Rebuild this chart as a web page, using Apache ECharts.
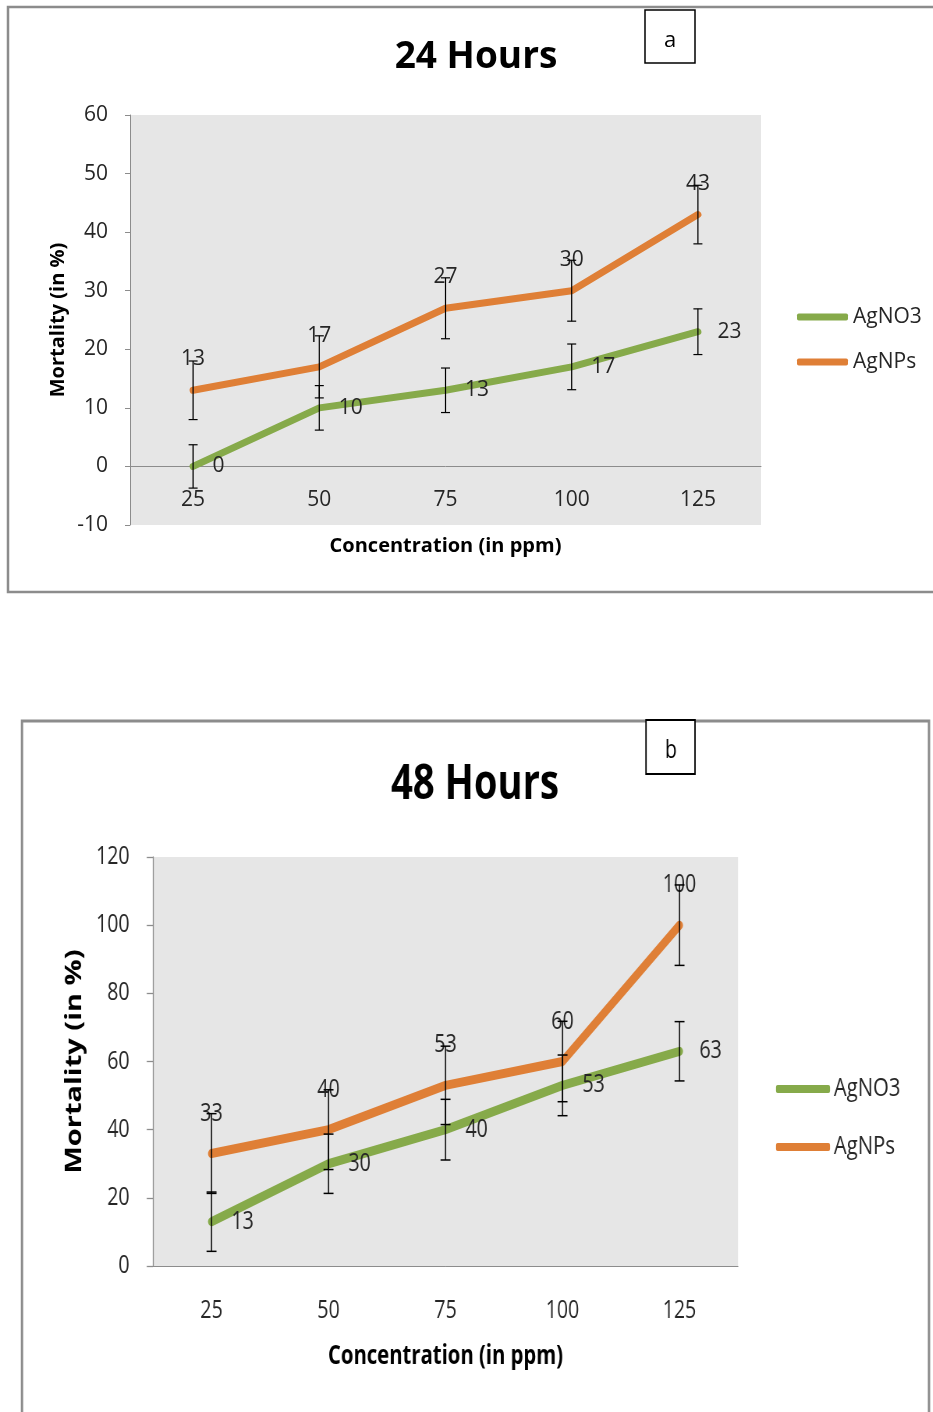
<!DOCTYPE html>
<html>
<head>
<meta charset="utf-8">
<script src="https://cdn.jsdelivr.net/npm/echarts@6/dist/echarts.min.js"></script>
<style>
html,body{margin:0;padding:0;background:#fff;overflow:hidden;}
#wrap{position:relative;width:933px;height:1412px;overflow:hidden;}
#chartA{position:absolute;left:0;top:0;width:933px;height:700px;}
/* panel b of the reference is horizontally condensed; draw it wider and squeeze it */
#chartB{position:absolute;left:0;top:700px;width:1196px;height:712px;transform:scaleX(0.78);transform-origin:0 0;}
</style>
</head>
<body>
<div id="wrap">
<div id="chartA"></div>
<div id="chartB"></div>
</div>
<script>
// ---- data ----
var concentrations = ['25', '50', '75', '100', '125'];
// Panel a: 24 hours
var a_AgNO3 = [0, 10, 13, 17, 23];
var a_AgNPs = [13, 17, 27, 30, 43];
var a_AgNO3_err = [3.7, 3.8, 3.8, 3.9, 3.9];
var a_AgNPs_err = [5.0, 5.3, 5.2, 5.2, 5.0];
// Panel b: 48 hours
var b_AgNO3 = [13, 30, 40, 53, 63];
var b_AgNPs = [33, 40, 53, 60, 100];
var b_AgNO3_err = [8.7, 8.7, 8.9, 8.9, 8.7];
var b_AgNPs_err = [11.7, 11.7, 11.5, 11.8, 11.8];
var seriesNames = ['AgNO3', 'AgNPs'];
var titles = ['24 Hours', '48 Hours'];
var panelTags = ['a', 'b'];
var xName = 'Concentration (in ppm)';
var yName = 'Mortality (in %)';
var yRangeA = { min: -10, max: 60, interval: 10 };
var yRangeB = { min: 0, max: 120, interval: 20 };

var GREEN = '#86aa4a', ORANGE = '#df7f36';
var FONT = "'Open Sans', 'Noto Sans', sans-serif";
var TXT = '#262626';
var axisGray = '#8c8c8c';
var SX = 0.78; // horizontal squeeze of panel b

function errData(vals, errs) {
  return vals.map(function (v, i) { return [i, v - errs[i], v + errs[i]]; });
}
function errRender(capHalf, lw) {
  return function (params, api) {
    var i = api.value(0);
    var lo = api.coord([i, api.value(1)]);
    var hi = api.coord([i, api.value(2)]);
    var st = { stroke: '#000', lineWidth: lw };
    return {
      type: 'group',
      children: [
        { type: 'line', shape: { x1: lo[0], y1: lo[1], x2: hi[0], y2: hi[1] }, style: st },
        { type: 'line', shape: { x1: lo[0] - capHalf, y1: lo[1], x2: lo[0] + capHalf, y2: lo[1] }, style: st },
        { type: 'line', shape: { x1: hi[0] - capHalf, y1: hi[1], x2: hi[0] + capHalf, y2: hi[1] }, style: st }
      ]
    };
  };
}
function lineSeries(name, data, color, width, labelPos, labelDist, fsize, dy) {
  return {
    name: name, type: 'line', data: data,
    symbol: 'circle', symbolSize: 1, showSymbol: true, z: 3,
    lineStyle: { color: color, width: width, cap: 'round', join: 'round' },
    itemStyle: { color: color },
    label: { show: true, position: labelPos, distance: labelDist, offset: [0, dy], color: TXT, fontFamily: FONT, fontSize: fsize },
    labelLayout: { hideOverlap: false }
  };
}
function errSeries(name, vals, errs, cap, lw) {
  return {
    name: name, type: 'custom',
    data: errData(vals, errs), encode: { x: 0, y: [1, 2] },
    renderItem: errRender(cap, lw), z: 4, silent: true
  };
}
function legendData() {
  return [
    { name: seriesNames[0], icon: 'roundRect', itemStyle: { color: GREEN } },
    { name: seriesNames[1], icon: 'roundRect', itemStyle: { color: ORANGE } }
  ];
}

// ---------- panel a ----------
var gridA = { left: 130, top: 115, width: 631, height: 410 };
// place the category axis on the value 0 line
var zeroOffsetA = -gridA.height * (0 - yRangeA.min) / (yRangeA.max - yRangeA.min);
var chartA = echarts.init(document.getElementById('chartA'), null, { renderer: 'canvas' });
chartA.setOption({
  animation: false,
  backgroundColor: 'transparent',
  textStyle: { fontFamily: FONT },
  grid: { left: gridA.left, top: gridA.top, width: gridA.width, height: gridA.height, show: true, backgroundColor: '#e6e6e6', borderWidth: 0 },
  xAxis: {
    type: 'category', data: concentrations, offset: zeroOffsetA,
    axisLine: { onZero: false, lineStyle: { color: axisGray, width: 1 } },
    axisTick: { show: false },
    axisLabel: { margin: 23, fontSize: 21, color: TXT, fontFamily: FONT },
    name: xName, nameLocation: 'middle', nameGap: 70, nameMoveOverlap: false,
    nameTextStyle: { fontWeight: 'bold', fontSize: 20, color: '#000', fontFamily: FONT }
  },
  yAxis: {
    type: 'value', min: yRangeA.min, max: yRangeA.max, interval: yRangeA.interval,
    axisLine: { show: true, lineStyle: { color: axisGray, width: 1 } },
    axisTick: { show: true, length: 5, lineStyle: { color: axisGray } },
    splitLine: { show: false },
    axisLabel: { margin: 22, fontSize: 21, color: TXT, fontFamily: FONT },
    name: yName, nameLocation: 'middle', nameGap: 62, nameRotate: 90, nameMoveOverlap: false,
    nameTextStyle: { fontWeight: 'bold', fontSize: 20, color: '#000', fontFamily: FONT }
  },
  legend: {
    orient: 'vertical', left: 797, top: 306, padding: 0, itemWidth: 51, itemHeight: 7, itemGap: 23,
    textStyle: { fontSize: 21, color: TXT, fontFamily: FONT, lineHeight: 22 },
    data: legendData(), selectedMode: false
  },
  graphic: [
    { type: 'rect', shape: { x: 8, y: 7, width: 940, height: 585 }, style: { fill: 'none', stroke: '#8c8c8c', lineWidth: 2.5 }, z: -1 },
    { type: 'rect', shape: { x: 645, y: 10, width: 50, height: 53 }, style: { fill: '#fff', stroke: '#000', lineWidth: 1.5 } },
    { type: 'text', x: 670, y: 41, style: { text: panelTags[0], font: "22px 'Open Sans'", fill: '#000', textAlign: 'center', textVerticalAlign: 'middle' } },
    { type: 'text', x: 476, y: 57, style: { text: titles[0], font: "bold 37px 'Open Sans'", fill: '#000', textAlign: 'center', textVerticalAlign: 'middle' } }
  ],
  series: [
    lineSeries(seriesNames[0], a_AgNO3, GREEN, 7, 'right', 19, 21, 3),
    lineSeries(seriesNames[1], a_AgNPs, ORANGE, 7, 'top', 20, 21, 0),
    errSeries('a-AgNO3-err', a_AgNO3, a_AgNO3_err, 4.5, 1.2),
    errSeries('a-AgNPs-err', a_AgNPs, a_AgNPs_err, 4.5, 1.2)
  ]
});

// ---------- panel b (coordinates in the un-squeezed space) ----------
var TOPB = 700;
var chartB = echarts.init(document.getElementById('chartB'), null, { renderer: 'canvas' });
chartB.setOption({
  animation: false,
  backgroundColor: 'transparent',
  textStyle: { fontFamily: FONT },
  grid: { left: 153 / SX, top: 857 - TOPB, width: 585 / SX, height: 409, show: true, backgroundColor: '#e6e6e6', borderWidth: 0 },
  xAxis: {
    type: 'category', data: concentrations,
    axisLine: { onZero: false, lineStyle: { color: axisGray, width: 1 } },
    axisTick: { show: false },
    axisLabel: { margin: 32, fontSize: 25, color: TXT, fontFamily: FONT },
    name: xName, nameLocation: 'middle', nameGap: 78, nameMoveOverlap: false,
    nameTextStyle: { fontWeight: 'bold', fontSize: 26, color: '#000', fontFamily: FONT }
  },
  yAxis: {
    type: 'value', min: yRangeB.min, max: yRangeB.max, interval: yRangeB.interval,
    axisLine: { show: true, lineStyle: { color: axisGray, width: 1.3 } },
    axisTick: { show: true, length: 8, lineStyle: { color: axisGray, width: 1.3 } },
    splitLine: { show: false },
    axisLabel: { margin: 30, fontSize: 25, color: TXT, fontFamily: FONT },
    name: yName, nameLocation: 'middle', nameGap: 86, nameRotate: 90, nameMoveOverlap: false,
    nameTextStyle: { fontWeight: 'bold', fontSize: 29, color: '#000', fontFamily: FONT }
  },
  legend: {
    orient: 'vertical', left: 776 / SX, top: 1089 - TOPB - 14, padding: 0, itemWidth: 54 / SX, itemHeight: 8, itemGap: 30,
    textStyle: { fontSize: 26, color: TXT, fontFamily: FONT, lineHeight: 28 },
    data: legendData(), selectedMode: false
  },
  graphic: [
    { type: 'rect', shape: { x: 22 / SX, y: 721 - TOPB, width: (929 - 22) / SX, height: 720 }, style: { fill: 'none', stroke: '#8c8c8c', lineWidth: 3 }, z: -1 },
    { type: 'rect', shape: { x: 646 / SX, y: 720 - TOPB, width: 49 / SX, height: 54 }, style: { fill: '#fff', stroke: '#000', lineWidth: 1.8 } },
    { type: 'text', x: 671 / SX, y: 751 - TOPB, style: { text: panelTags[1], font: "25px 'Open Sans'", fill: '#000', textAlign: 'center', textVerticalAlign: 'middle' } },
    { type: 'text', x: 475 / SX, y: 785 - TOPB, style: { text: titles[1], font: "bold 49px 'Open Sans'", fill: '#000', textAlign: 'center', textVerticalAlign: 'middle' } }
  ],
  series: [
    lineSeries(seriesNames[0], b_AgNO3, GREEN, 9, 'right', 25, 25, 3),
    lineSeries(seriesNames[1], b_AgNPs, ORANGE, 9, 'top', 27, 25, 0),
    errSeries('b-AgNO3-err', b_AgNO3, b_AgNO3_err, 6.4, 1.5),
    errSeries('b-AgNPs-err', b_AgNPs, b_AgNPs_err, 6.4, 1.5)
  ]
});
</script>
</body>
</html>
